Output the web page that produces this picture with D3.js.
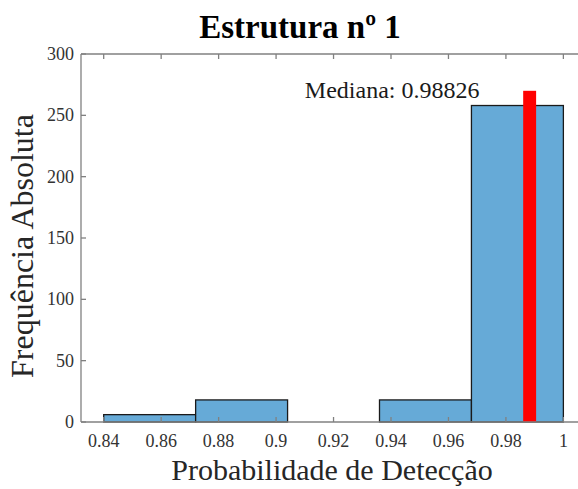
<!DOCTYPE html>
<html>
<head>
<meta charset="utf-8">
<script src="https://cdn.jsdelivr.net/npm/d3@7"></script>
<style>
  body { margin: 0; background: #fff; }
  svg text { font-family: "Liberation Serif", "Times New Roman", serif; }
</style>
</head>
<body>
<div id="chart"></div>
<script>
// histogram bins (edges) and counts
var binEdges = [0.84, 0.872, 0.904, 0.936, 0.968, 1.0];
var binCounts = [6, 18, 0, 18, 258];
var xTicks = [0.84, 0.86, 0.88, 0.9, 0.92, 0.94, 0.96, 0.98, 1];
var yTicks = [0, 50, 100, 150, 200, 250, 300];
var median = 0.98826;
var medianHeight = 270;
var medianWidth = 0.0045;

var width = 578, height = 489;
var margin = {top: 54, left: 81, bottom: 67};

var svg = d3.select('#chart')
  .append('svg')
  .attr('width', width)
  .attr('height', height);

// x axis runs past the right edge of the picture
var x = d3.scaleLinear()
  .domain([0.8321, 1.02])
  .range([margin.left, margin.left + (1.02 - 0.8321) * 2873]);

var y = d3.scaleLinear()
  .domain([0, 300])
  .range([height - margin.bottom, margin.top]);

var bins = binCounts.map((c, i) => ({x0: binEdges[i], x1: binEdges[i + 1], count: c}));

svg.selectAll('rect.bin')
  .data(bins.filter(d => d.count > 0))
  .enter()
  .append('rect')
  .attr('class', 'bin')
  .attr('x', d => x(d.x0))
  .attr('y', d => y(d.count))
  .attr('width', d => x(d.x1) - x(d.x0))
  .attr('height', d => y(0) - y(d.count))
  .attr('fill', '#66aad7')
  .attr('stroke', '#1a1a1a')
  .attr('stroke-width', 1.3);

// median bar
svg.append('rect')
  .attr('x', x(median - medianWidth / 2))
  .attr('y', y(medianHeight))
  .attr('width', x(median + medianWidth / 2) - x(median - medianWidth / 2))
  .attr('height', y(0) - y(medianHeight))
  .attr('fill', '#ff0000');

svg.append('text')
  .attr('x', x(0.9708))
  .attr('y', y(medianHeight) + 7)
  .attr('text-anchor', 'end')
  .attr('font-size', 24)
  .attr('fill', '#1a1a1a')
  .text('Mediana: ' + median);

// axes
var axisColor = '#808080';
var xRight = x(1.02);

function drawXAxis(yPos, dir, labels) {
  svg.append('line')
    .attr('x1', x.range()[0]).attr('x2', xRight)
    .attr('y1', yPos).attr('y2', yPos)
    .attr('stroke', axisColor).attr('stroke-width', 1.3);
  svg.selectAll(null)
    .data(xTicks)
    .enter()
    .append('line')
    .attr('x1', d => x(d)).attr('x2', d => x(d))
    .attr('y1', yPos).attr('y2', yPos + dir * 5)
    .attr('stroke', axisColor).attr('stroke-width', 1.3);
  if (labels) {
    svg.selectAll(null)
      .data(xTicks)
      .enter()
      .append('text')
      .attr('x', d => x(d))
      .attr('y', yPos + 25)
      .attr('text-anchor', 'middle')
      .attr('font-size', 18)
      .attr('fill', '#333')
      .text(d => d3.format('~g')(d));
  }
}

drawXAxis(y(0), -1, true);
drawXAxis(y(300), 1, false);

svg.append('line')
  .attr('x1', x.range()[0]).attr('x2', x.range()[0])
  .attr('y1', y(0)).attr('y2', y(300))
  .attr('stroke', axisColor).attr('stroke-width', 1.3);

svg.selectAll(null)
  .data(yTicks)
  .enter()
  .append('line')
  .attr('x1', x.range()[0]).attr('x2', x.range()[0] + 5)
  .attr('y1', d => y(d)).attr('y2', d => y(d))
  .attr('stroke', axisColor).attr('stroke-width', 1.3);

svg.selectAll(null)
  .data(yTicks)
  .enter()
  .append('text')
  .attr('x', x.range()[0] - 7)
  .attr('y', d => y(d) + 6)
  .attr('text-anchor', 'end')
  .attr('font-size', 18)
  .attr('fill', '#333')
  .text(d => d);

// titles
svg.append('text')
  .attr('x', 300)
  .attr('y', 38)
  .attr('text-anchor', 'middle')
  .attr('font-size', 33)
  .attr('font-weight', 'bold')
  .attr('fill', '#000')
  .text('Estrutura nº 1');

svg.append('text')
  .attr('x', 332)
  .attr('y', 480)
  .attr('text-anchor', 'middle')
  .attr('font-size', 30)
  .attr('fill', '#262626')
  .text('Probabilidade de Detecção');

svg.append('text')
  .attr('transform', 'translate(33,246) rotate(-90)')
  .attr('text-anchor', 'middle')
  .attr('font-size', 32)
  .attr('fill', '#262626')
  .text('Frequência Absoluta');
</script>
</body>
</html>
